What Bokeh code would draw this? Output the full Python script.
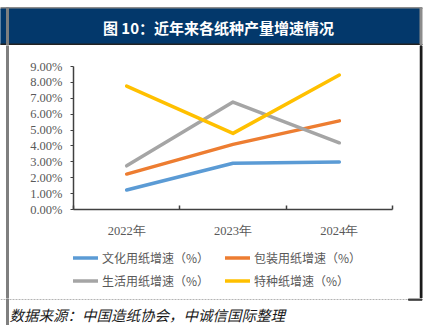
from bokeh.plotting import figure
from bokeh.layouts import column, row
from bokeh.models import (Range1d, FixedTicker, PrintfTickFormatter, Legend, LegendItem)
from bokeh.core.properties import value
from bokeh.embed import file_html
from bokeh.resources import INLINE

# ---- data ----
years = ["2022年", "2023年", "2024年"]
culture = [1.23, 2.91, 2.99]     # 文化用纸增速（%）
packaging = [2.23, 4.10, 5.58]   # 包装用纸增速（%）
household = [2.75, 6.76, 4.20]   # 生活用纸增速（%）
specialty = [7.77, 4.79, 8.46]   # 特种纸增速（%）
series_names = ["文化用纸增速（%）", "包装用纸增速（%）", "生活用纸增速（%）", "特种纸增速（%）"]
series_values = [culture, packaging, household, specialty]
series_colors = ["#5B9BD5", "#ED7D31", "#A5A5A5", "#FFC000"]
y_ticks = [0, 1, 2, 3, 4, 5, 6, 7, 8, 9]
title_text = "图 10：近年来各纸种产量增速情况"
source_text = "数据来源：中国造纸协会，中诚信国际整理"

W, H = 423, 325
TOP_H, BOT_H = 45, 27
MID_H = H - TOP_H - BOT_H          # 253
CHART_H = 195                      # page y 45..240
LEG_H = MID_H - CHART_H            # page y 240..298
LS_W, RS_W = 9, 4
MID_W = W - LS_W - RS_W            # 410
FL, FR, FT, FB = 73, 392, 66, 210  # frame edges in page pixels


def deco(w, h):
    f = figure(width=w, height=h, output_backend="svg", toolbar_location=None,
               x_range=Range1d(0, w), y_range=Range1d(h, 0),
               min_border=0, min_border_left=0, min_border_right=0,
               min_border_top=0, min_border_bottom=0)
    f.axis.visible = False
    f.grid.visible = False
    f.outline_line_color = None
    f.background_fill_color = "white"
    f.border_fill_color = "white"
    return f


# ---- top: title bar ----
top = deco(W, TOP_H)
top.quad(left=[0], right=[421.5], top=[7], bottom=[8.5], color="#8c8c8c")
top.quad(left=[0], right=[420], top=[8.5], bottom=[43.5], color="#03386B")
top.quad(left=[0], right=[421.5], top=[43.5], bottom=[45], color="#222222")
top.quad(left=[6], right=[8], top=[7], bottom=[45], color="#7f7f7f")
top.quad(left=[419.5], right=[421.5], top=[7], bottom=[44], color="#8c8c8c")
top.text(x=[218], y=[26.5], text=[title_text], text_align="center", text_baseline="middle",
         text_color="white", text_font=value("Noto Sans CJK SC"),
         text_font_style="bold", text_font_size="15px")

# ---- side strips ----
ls = deco(LS_W, MID_H)
ls.quad(left=[6], right=[8], top=[0], bottom=[MID_H], color="#7f7f7f")
rs = deco(RS_W, MID_H)
rs.quad(left=[0.5], right=[2.5], top=[0], bottom=[MID_H], color="#1a1a1a")

# ---- main chart ----
p = figure(width=MID_W, height=CHART_H, output_backend="svg", toolbar_location=None,
           x_range=Range1d(0, len(years)), y_range=Range1d(y_ticks[0], y_ticks[-1]),
           min_border_left=FL - LS_W, min_border_right=(LS_W + MID_W) - FR,
           min_border_top=FT - TOP_H, min_border_bottom=(TOP_H + CHART_H) - FB)
p.outline_line_color = None
p.xgrid.visible = False
p.ygrid.visible = False
p.background_fill_color = "white"
p.border_fill_color = "white"

xs = [i + 0.5 for i in range(len(years))]

p.xaxis.ticker = FixedTicker(ticks=xs, minor_ticks=list(range(len(years) + 1)))
p.xaxis.major_label_overrides = {x: lab for x, lab in zip(xs, years)}
p.xaxis.major_tick_line_color = None
p.xaxis.minor_tick_in = 4
p.xaxis.minor_tick_out = 0
p.xaxis.minor_tick_line_color = "#404040"
p.xaxis.minor_tick_line_width = 1.5
p.xaxis.axis_line_color = "#404040"
p.xaxis.axis_line_width = 1.5
p.xaxis.major_label_standoff = 8
p.xaxis.major_label_text_font = "Liberation Serif"
p.xaxis.major_label_text_font_size = "12.5px"
p.xaxis.major_label_text_color = "#595959"

p.yaxis.ticker = FixedTicker(ticks=y_ticks)
p.yaxis.formatter = PrintfTickFormatter(format="%.2f%%")
p.yaxis.major_tick_in = 0
p.yaxis.major_tick_out = 3
p.yaxis.major_tick_line_color = "#404040"
p.yaxis.minor_tick_line_color = None
p.yaxis.axis_line_color = "#404040"
p.yaxis.axis_line_width = 1.5
p.yaxis.major_label_standoff = 8
p.yaxis.major_label_text_font = "Liberation Serif"
p.yaxis.major_label_text_font_size = "12.5px"
p.yaxis.major_label_text_color = "#595959"

for vals, col in zip(series_values, series_colors):
    p.line(x=xs, y=vals, line_color=col, line_width=3.5, line_cap="round", line_join="round")

# ---- legend strip: real Legend fed by hidden copies of the series lines ----
# (its frame gets aligned with the chart frame above, page x 73..392)
lg = deco(MID_W, LEG_H)
leg_renderers = [lg.line(x=xs, y=vals, line_color=col, line_width=3.5, line_cap="round",
                         visible=False)
                 for vals, col in zip(series_values, series_colors)]
legend = Legend(items=[LegendItem(label=n, renderers=[r]) for n, r in zip(series_names, leg_renderers)],
                location=(0, 8), orientation="horizontal", ncols=2,
                glyph_width=25, glyph_height=19, label_height=19, label_width=119,
                label_standoff=4, spacing=4, padding=0, margin=0,
                background_fill_alpha=0, border_line_color=None,
                inactive_fill_alpha=0,
                label_text_font="Noto Sans CJK SC", label_text_font_size="12px",
                label_text_color="#595959")
lg.add_layout(legend)

# ---- bottom: source ----
bot = deco(W, BOT_H)
bot.segment(x0=[0], y0=[1], x1=[408], y1=[1], line_color="#b4b4b4", line_width=1, line_dash="2 1")
bot.quad(left=[408], right=[421.5], top=[0.3], bottom=[1.8], color="#404040")
bot.quad(left=[6], right=[8], top=[0], bottom=[BOT_H], color="#7f7f7f")
bot.text(x=[9], y=[15.5], text=[source_text], text_align="left", text_baseline="middle",
         text_color="#1a1a1a", text_font=value("Noto Sans CJK SC"),
         text_font_style="italic", text_font_size="14.5px")

layout = column(top, row(ls, column(p, lg, spacing=0), rs, spacing=0), bot, spacing=0)
open("out.html", "w").write(file_html(layout, INLINE))
